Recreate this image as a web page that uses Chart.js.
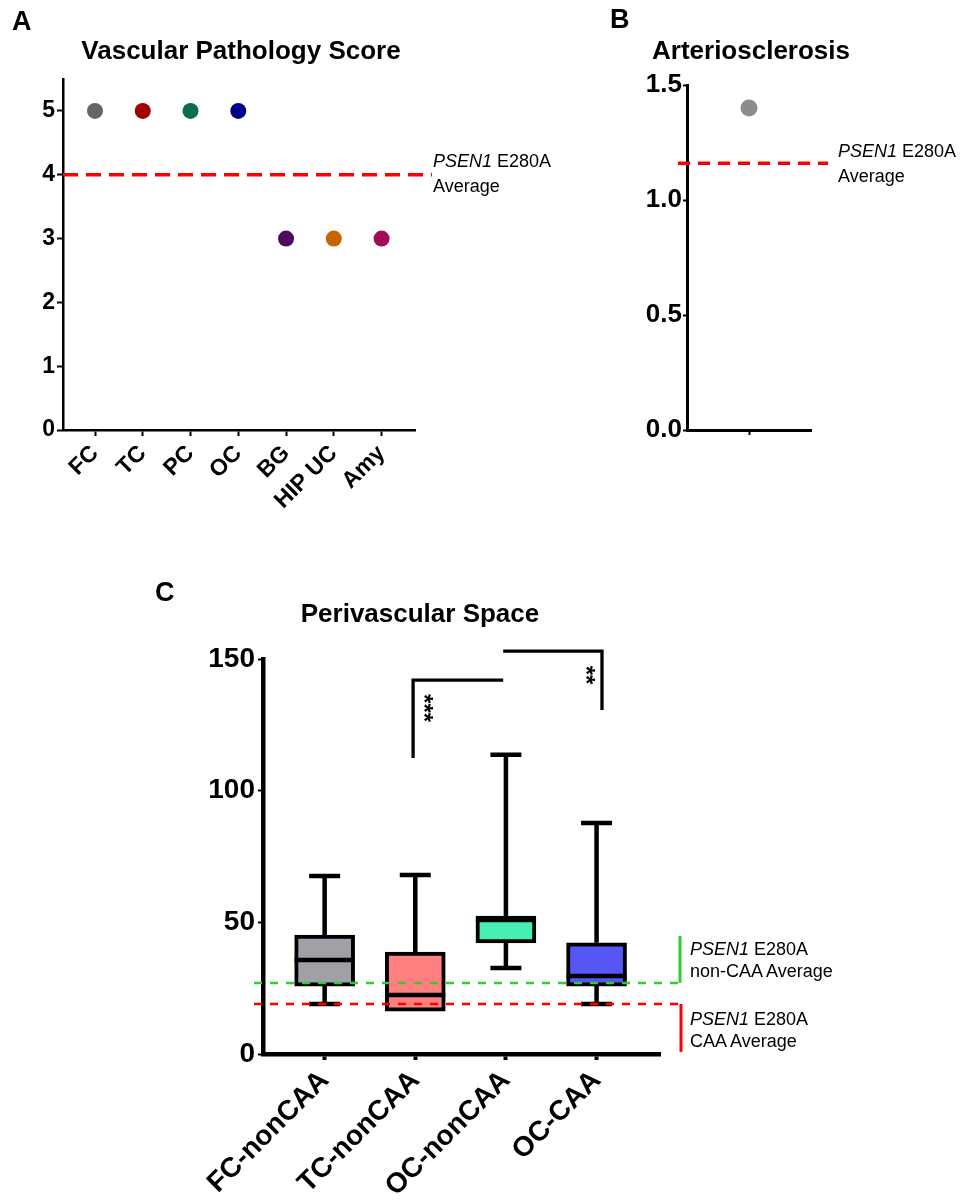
<!DOCTYPE html>
<html>
<head>
<meta charset="utf-8">
<script src="https://cdn.jsdelivr.net/npm/chart.js@4.4.1/dist/chart.umd.min.js"></script>
<style>
  body { margin: 0; background: #fff; font-family: "Liberation Sans", Arial, Helvetica, sans-serif; }
  #page { position: relative; width: 964px; height: 1204px; overflow: hidden; background: #fff; }
  canvas { position: absolute; }
  .letter { position: absolute; font-size: 27px; line-height: 27px; font-weight: bold; }
  .title { position: absolute; width: 400px; text-align: center; font-size: 26px; line-height: 26px; font-weight: bold; white-space: nowrap; }
  .note { position: absolute; font-size: 18px; line-height: 25px; white-space: nowrap; }
  .note.tight { line-height: 22px; }
</style>
</head>
<body>
<div id="page">
  <canvas id="scoreChart" width="600" height="540" style="left:0;top:0"></canvas>
  <canvas id="arterioChart" width="364" height="460" style="left:600px;top:0"></canvas>
  <canvas id="pvsChart" width="814" height="614" style="left:150px;top:590px"></canvas>

  <div class="letter" style="left:12px;top:8px">A</div>
  <div class="letter" style="left:610px;top:6px">B</div>
  <div class="letter" style="left:155px;top:579px">C</div>

  <div class="title" style="left:41px;top:37px">Vascular Pathology Score</div>
  <div class="title" style="left:551px;top:37px">Arteriosclerosis</div>
  <div class="title" style="left:220px;top:600px">Perivascular Space</div>

  <div class="note" style="left:433px;top:149px"><i>PSEN1</i> E280A<br>Average</div>
  <div class="note" style="left:838px;top:139px"><i>PSEN1</i> E280A<br>Average</div>
  <div class="note tight" style="left:690px;top:938px"><i>PSEN1</i> E280A<br>non-CAA Average</div>
  <div class="note tight" style="left:690px;top:1008px"><i>PSEN1</i> E280A<br>CAA Average</div>
</div>

<script>
// panel A data
var regionLabels = ['FC', 'TC', 'PC', 'OC', 'BG', 'HIP UC', 'Amy'];
var regionScores = [5, 5, 5, 5, 3, 3, 3];
var regionColors = ['#666666', '#a00000', '#0a6e4b', '#00008b', '#4b0b5c', '#c86400', '#a00c58'];
var scoreTicks = [0, 1, 2, 3, 4, 5];
var scoreAverage = 4;

// panel B data
var arterioValues = [1.4];
var arterioTicks = [0, 0.5, 1.0, 1.5];
var arterioAverage = 1.16;

// panel C data (box plots)
var pvsGroups = ['FC-nonCAA', 'TC-nonCAA', 'OC-nonCAA', 'OC-CAA'];
var pvsMin = [19, 16.3, 32.7, 19];
var pvsQ1 = [25.8, 16.3, 42.2, 25.8];
var pvsMedian = [35.7, 22.4, 50.9, 29.6];
var pvsQ3 = [45.2, 38.7, 52.4, 42.2];
var pvsMax = [67.6, 68, 113.6, 87.7];
var pvsColors = ['#a0a0a6', '#ff8080', '#44f0b2', '#5656f7'];
var pvsTicks = [0, 50, 100, 150];
var pvsNonCaaAverage = 27;
var pvsCaaAverage = 19;
// significance brackets: [top value, drop-down value]
var sigTop = [142, 153];
var sigDrop = [112.4, 130.6];
var sigStars = ['***', '**'];

Chart.defaults.font.family = '"Liberation Sans", Arial, Helvetica, sans-serif';
Chart.defaults.color = '#000';

// dashed reference lines drawn across the plot
function refLines(lines) {
    return {
        id: 'refLines',
        afterDatasetsDraw: function(chart) {
            var ctx = chart.ctx, area = chart.chartArea, y = chart.scales.y;
            lines.forEach(function(l) {
                var py = y.getPixelForValue(l.value);
                var xEnd = area.right + l.to;
                ctx.save();
                ctx.strokeStyle = l.color;
                ctx.lineWidth = l.width;
                ctx.setLineDash(l.dash);
                ctx.beginPath();
                ctx.moveTo(area.left + l.from, py);
                ctx.lineTo(xEnd, py);
                ctx.stroke();
                if (l.bar) {
                    ctx.setLineDash([]);
                    ctx.lineWidth = 3;
                    ctx.beginPath();
                    ctx.moveTo(xEnd, y.getPixelForValue(l.bar[0]));
                    ctx.lineTo(xEnd, y.getPixelForValue(l.bar[1]));
                    ctx.stroke();
                }
                ctx.restore();
            });
        }
    };
}

function blackAxis(width, tickLen) {
    return {
        border: { display: true, color: '#000', width: width },
        grid: { display: true, offset: false, drawOnChartArea: false, drawTicks: true, tickLength: tickLen, tickWidth: 2, tickColor: '#000', color: '#000' }
    };
}

// ---------- A ----------
var axA = blackAxis(2.5, 6), ayA = blackAxis(2.5, 6);
new Chart(document.getElementById('scoreChart'), {
    type: 'scatter',
    data: {
        datasets: [{
            data: regionScores.map(function(v, i) { return { x: i, y: v }; }),
            backgroundColor: regionColors,
            borderWidth: 0,
            pointRadius: 8,
            pointHoverRadius: 8
        }]
    },
    options: {
        responsive: false,
        animation: false,
        layout: { padding: { left: 0, top: 79, right: 185, bottom: 0 } },
        plugins: { legend: { display: false }, tooltip: { enabled: false } },
        scales: {
            x: {
                type: 'linear', min: -0.67, max: 6.7, offset: false,
                border: axA.border, grid: axA.grid,
                afterBuildTicks: function(s) { s.ticks = regionLabels.map(function(l, i) { return { value: i }; }); },
                afterFit: function(s) { s.height = 110; },
                ticks: {
                    autoSkip: false, minRotation: 45, maxRotation: 45, padding: 4,
                    font: { size: 23, weight: 'bold' },
                    callback: function(v) { return regionLabels[v]; }
                }
            },
            y: {
                min: 0, max: 5.5,
                border: ayA.border, grid: ayA.grid,
                afterBuildTicks: function(s) { s.ticks = scoreTicks.map(function(v) { return { value: v }; }); },
                afterFit: function(s) { s.width = 63; },
                ticks: { padding: 2, font: { size: 23, weight: 'bold' } }
            }
        }
    },
    plugins: [refLines([{ value: scoreAverage, color: '#ff0000', width: 3.5, dash: [15, 8], from: 0, to: 17 }])]
});

// ---------- B ----------
var axB = blackAxis(3, 5), ayB = blackAxis(3, 4);
new Chart(document.getElementById('arterioChart'), {
    type: 'scatter',
    data: {
        datasets: [{
            data: arterioValues.map(function(v, i) { return { x: i, y: v }; }),
            backgroundColor: '#8c8c8c',
            borderWidth: 0,
            pointRadius: 8.5,
            pointHoverRadius: 8.5
        }]
    },
    options: {
        responsive: false,
        animation: false,
        layout: { padding: { left: 0, top: 85, right: 153, bottom: 0 } },
        plugins: { legend: { display: false }, tooltip: { enabled: false } },
        scales: {
            x: {
                type: 'linear', min: -1, max: 1, offset: false,
                border: axB.border, grid: axB.grid,
                afterBuildTicks: function(s) { s.ticks = arterioValues.map(function(v, i) { return { value: i }; }); },
                afterFit: function(s) { s.height = 30; },
                ticks: { callback: function() { return ''; } }
            },
            y: {
                min: 0, max: 1.5,
                border: ayB.border, grid: ayB.grid,
                afterBuildTicks: function(s) { s.ticks = arterioTicks.map(function(v) { return { value: v }; }); },
                afterFit: function(s) { s.width = 87; },
                ticks: { padding: 1, font: { size: 26, weight: 'bold' }, callback: function(v) { return v.toFixed(1); } }
            }
        }
    },
    plugins: [refLines([{ value: arterioAverage, color: '#ff0000', width: 3.5, dash: [12, 8], from: -9, to: 17 }])]
});

// ---------- C ----------
// whiskers, medians, significance brackets
var boxExtras = {
    id: 'boxExtras',
    afterDatasetsDraw: function(chart) {
        var ctx = chart.ctx, x = chart.scales.x, y = chart.scales.y;
        ctx.save();
        ctx.strokeStyle = '#000';
        ctx.lineWidth = 4.5;
        ctx.lineCap = 'butt';
        pvsGroups.forEach(function(g, i) {
            var px = x.getPixelForValue(i);
            var pMax = y.getPixelForValue(pvsMax[i]), pMin = y.getPixelForValue(pvsMin[i]);
            ctx.beginPath();
            ctx.moveTo(px, y.getPixelForValue(pvsQ3[i])); ctx.lineTo(px, pMax);
            ctx.moveTo(px - 15.5, pMax); ctx.lineTo(px + 15.5, pMax);
            if (pvsMin[i] < pvsQ1[i]) {
                ctx.moveTo(px, y.getPixelForValue(pvsQ1[i])); ctx.lineTo(px, pMin);
                ctx.moveTo(px - 15.5, pMin); ctx.lineTo(px + 15.5, pMin);
            }
            var pMed = y.getPixelForValue(pvsMedian[i]);
            ctx.moveTo(px - 30, pMed); ctx.lineTo(px + 30, pMed);
            ctx.stroke();
        });
        // brackets
        ctx.lineWidth = 3.3;
        var b1L = x.getPixelForValue(0.976), b1R = x.getPixelForValue(1.97);
        var b2L = x.getPixelForValue(1.97), b2R = x.getPixelForValue(3.06);
        var t1 = y.getPixelForValue(sigTop[0]), t2 = y.getPixelForValue(sigTop[1]);
        ctx.beginPath();
        ctx.moveTo(b1L, y.getPixelForValue(sigDrop[0])); ctx.lineTo(b1L, t1); ctx.lineTo(b1R, t1);
        ctx.moveTo(b2L, t2); ctx.lineTo(b2R, t2); ctx.lineTo(b2R, y.getPixelForValue(sigDrop[1]));
        ctx.stroke();
        ctx.fillStyle = '#000';
        ctx.font = 'bold 24px "Liberation Sans", Arial, sans-serif';
        ctx.textAlign = 'center';
        ctx.textBaseline = 'middle';
        [[b1L + 10, t1 + 28], [b2R - 17, t2 + 24]].forEach(function(p, k) {
            ctx.save();
            ctx.translate(p[0], p[1]);
            ctx.rotate(Math.PI / 2);
            ctx.fillText(sigStars[k], 0, 0);
            ctx.restore();
        });
        ctx.restore();
    }
};

var axC = blackAxis(4.5, 6), ayC = blackAxis(4.5, 5);
axC.grid.tickWidth = 4;
new Chart(document.getElementById('pvsChart'), {
    type: 'bar',
    data: {
        datasets: [{
            data: pvsGroups.map(function(g, i) { return { x: i, y: [pvsQ1[i], pvsQ3[i]] }; }),
            backgroundColor: pvsColors,
            borderColor: '#000',
            borderWidth: 4,
            borderSkipped: false,
            barThickness: 60
        }]
    },
    options: {
        responsive: false,
        animation: false,
        layout: { padding: { left: 0, top: 69, right: 304, bottom: 0 } },
        plugins: { legend: { display: false }, tooltip: { enabled: false } },
        scales: {
            x: {
                type: 'linear', min: -0.68, max: 3.7, offset: false,
                border: axC.border, grid: axC.grid,
                afterBuildTicks: function(s) { s.ticks = pvsGroups.map(function(g, i) { return { value: i }; }); },
                afterFit: function(s) { s.height = 150; },
                ticks: {
                    autoSkip: false, minRotation: 45, maxRotation: 45, padding: 4,
                    font: { size: 28, weight: 'bold' },
                    callback: function(v) { return pvsGroups[v]; }
                }
            },
            y: {
                min: 0, max: 150, beginAtZero: true,
                border: ayC.border, grid: ayC.grid,
                afterBuildTicks: function(s) { s.ticks = pvsTicks.map(function(v) { return { value: v }; }); },
                afterFit: function(s) { s.width = 113; },
                ticks: { padding: 3, font: { size: 28, weight: 'bold' } }
            }
        }
    },
    plugins: [boxExtras, refLines([
        { value: pvsNonCaaAverage, color: '#33cc33', width: 2.5, dash: [8, 8], from: -9, to: 20, bar: [pvsNonCaaAverage, 44.8] },
        { value: pvsCaaAverage, color: '#ff0000', width: 2.5, dash: [8, 8], from: -9, to: 21, bar: [pvsCaaAverage, 0.8] }
    ])]
});
</script>
</body>
</html>
